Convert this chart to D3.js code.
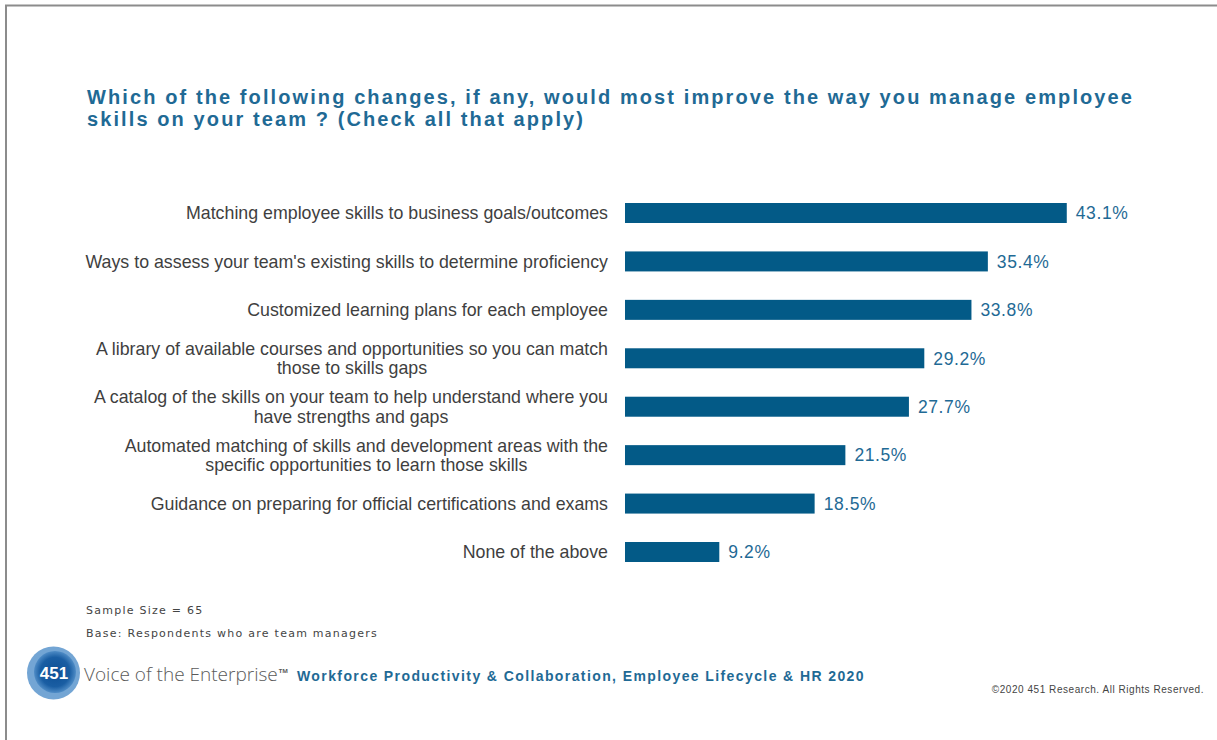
<!DOCTYPE html>
<html>
<head>
<meta charset="utf-8">
<script src="https://cdn.jsdelivr.net/npm/d3@7"></script>
<style>
  html, body { margin: 0; padding: 0; background: #fff; }
  svg { display: block; }
</style>
</head>
<body>
<svg id="chart" width="1217" height="740"></svg>
<script>
// Survey question and answer options
const titleLines = [
  "Which of the following changes, if any, would most improve the way you manage employee",
  "skills on your team ? (Check all that apply)"
];
const categories = [
  ["Matching employee skills to business goals/outcomes"],
  ["Ways to assess your team's existing skills to determine proficiency"],
  ["Customized learning plans for each employee"],
  ["A library of available courses and opportunities so you can match", "those to skills gaps"],
  ["A catalog of the skills on your team to help understand where you", "have strengths and gaps"],
  ["Automated matching of skills and development areas with the", "specific opportunities to learn those skills"],
  ["Guidance on preparing for official certifications and exams"],
  ["None of the above"]
];
const values = [43.1, 35.4, 33.8, 29.2, 27.7, 21.5, 18.5, 9.2];
const notes = ["Sample Size = 65", "Base: Respondents who are team managers"];
const brand = "Voice of the Enterprise";
const reportName = "Workforce Productivity & Collaboration, Employee Lifecycle & HR 2020";
const copyright = "\u00A92020 451 Research. All Rights Reserved.";

const svg = d3.select("#chart");
const BLUE = "#035a87";
const TEXT_BLUE = "#1f6a95";
const LABEL = "#3f3f3f";

// Slide frame (top and left edges)
svg.append("path")
  .attr("d", "M6,740 V5.5 H1217")
  .attr("fill", "none")
  .attr("stroke", "#8c8c8c")
  .attr("stroke-width", 2);

// Title
const title = svg.append("text")
  .attr("x", 87)
  .attr("y", 104)
  .attr("fill", TEXT_BLUE)
  .style("font-family", "'Liberation Sans', Arial, sans-serif")
  .style("font-weight", "bold")
  .style("font-size", "20px")
  .style("letter-spacing", "2.1px");
title.selectAll("tspan").data(titleLines).join("tspan")
  .attr("x", 87)
  .attr("dy", (d, i) => i === 0 ? 0 : 22)
  .text(d => d);

// Scales
const x = d3.scaleLinear().domain([0, 50]).range([625, 1137.5]);
const y = d3.scaleBand()
  .domain(d3.range(values.length))
  .range([203, 562])
  .paddingInner(0.587)
  .paddingOuter(0);

// Bars
svg.append("g").selectAll("rect").data(values).join("rect")
  .attr("x", x(0))
  .attr("y", (d, i) => y(i))
  .attr("width", d => x(d) - x(0))
  .attr("height", y.bandwidth())
  .attr("fill", BLUE);

// Value labels
svg.append("g").selectAll("text").data(values).join("text")
  .attr("x", d => x(d) + 9)
  .attr("y", (d, i) => y(i) + y.bandwidth() / 2)
  .attr("dy", "0.36em")
  .attr("fill", TEXT_BLUE)
  .style("font-family", "'Liberation Sans', Arial, sans-serif")
  .style("font-size", "17.5px")
  .style("letter-spacing", "0.6px")
  .text(d => d.toFixed(1) + "%");

// Category labels (multi-line labels are centred within a right-aligned block)
const lab = svg.append("g")
  .style("font-family", "'Liberation Sans', Arial, sans-serif")
  .style("font-size", "17.8px")
  .attr("fill", LABEL);
categories.forEach((lines, i) => {
  const cy = y(i) + y.bandwidth() / 2;
  const lh = 19.5;
  const g = lab.append("text");
  const tspans = g.selectAll("tspan").data(lines).join("tspan")
    .attr("y", (d, j) => cy + (j - (lines.length - 1) / 2) * lh)
    .attr("dy", "0.36em")
    .text(d => d);
  // widest line sets the block so it ends at the bar axis gap
  const widths = [];
  tspans.each(function () { widths.push(this.getComputedTextLength()); });
  const w = d3.max(widths);
  const centre = 608 - w / 2;
  tspans.attr("x", centre).attr("text-anchor", "middle");
});

// Footnotes
svg.append("g")
  .style("font-family", "'DejaVu Sans', sans-serif")
  .style("font-size", "11px")
  .style("letter-spacing", "1.25px")
  .attr("fill", "#444")
  .selectAll("text").data(notes).join("text")
  .attr("x", 86)
  .attr("y", (d, i) => 614 + i * 23)
  .text(d => d);

// Logo
const defs = svg.append("defs");
const grad = defs.append("radialGradient").attr("id", "logoGrad");
grad.append("stop").attr("offset", "0%").attr("stop-color", "#0d4f95");
grad.append("stop").attr("offset", "70%").attr("stop-color", "#1a5ea3");
grad.append("stop").attr("offset", "100%").attr("stop-color", "#4f8cc6");
svg.append("circle").attr("cx", 53.5).attr("cy", 673).attr("r", 26.5)
  .attr("fill", "#5b95cc").attr("opacity", 0.85);
svg.append("circle").attr("cx", 55).attr("cy", 672).attr("r", 21)
  .attr("fill", "url(#logoGrad)");
svg.append("text")
  .attr("x", 54).attr("y", 679)
  .attr("text-anchor", "middle")
  .attr("fill", "#fff")
  .style("font-family", "'Liberation Sans', Arial, sans-serif")
  .style("font-weight", "bold")
  .style("font-size", "17px")
  .text("451");

const brandText = svg.append("text")
  .attr("x", 84).attr("y", 681)
  .attr("fill", "#5a5a5a")
  .style("font-family", "'Open Sans', sans-serif")
  .style("font-weight", 300)
  .style("font-size", "19px")
  .text(brand);
brandText.append("tspan")
  .attr("dx", 1)
  .attr("dy", -8)
  .style("font-size", "6px")
  .style("font-weight", "bold")
  .text("TM");

svg.append("text")
  .attr("x", 297).attr("y", 681)
  .attr("fill", TEXT_BLUE)
  .style("font-family", "'Liberation Sans', Arial, sans-serif")
  .style("font-weight", "bold")
  .style("font-size", "14px")
  .style("letter-spacing", "1.4px")
  .text(reportName);

svg.append("text")
  .attr("x", 1204).attr("y", 693)
  .attr("text-anchor", "end")
  .attr("fill", "#444")
  .style("font-family", "'Liberation Sans', Arial, sans-serif")
  .style("font-size", "10px")
  .style("letter-spacing", "0.55px")
  .text(copyright);
</script>
</body>
</html>
